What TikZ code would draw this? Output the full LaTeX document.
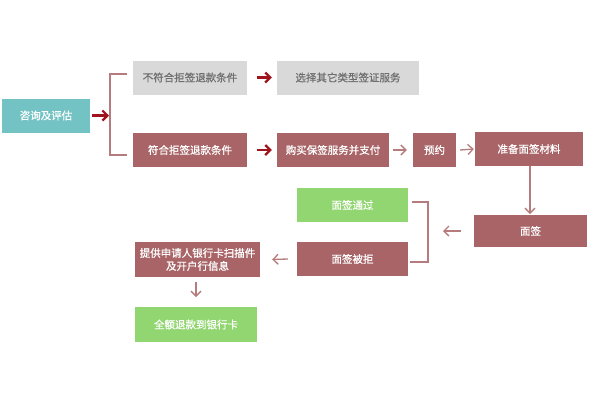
\documentclass[tikz,border=0pt]{standalone}
\usepackage{fontspec}
\newfontfamily\cjk[FakeBold=0.8]{Noto Sans CJK SC}
\usetikzlibrary{arrows.meta}
\definecolor{teal1}{RGB}{116,195,196}
\definecolor{rose}{RGB}{168,100,102}
\definecolor{green1}{RGB}{145,214,112}
\definecolor{gray1}{RGB}{217,217,217}
\definecolor{graytext}{RGB}{110,110,110}
\definecolor{darkred}{RGB}{160,20,30}
\tikzset{
  box/.style={draw=none, minimum height=34pt, inner sep=0pt, font=\cjk\fontsize{10.5}{13}\selectfont, text=white, align=center},
  tealbox/.style={box, fill=teal1},
  graybox/.style={box, fill=gray1, text=graytext},
  rosebox/.style={box, fill=rose},
  greenbox/.style={box, fill=green1},
  darr/.style={-{Straight Barb[length=5pt,width=10pt,line width=2.2pt]}, line width=2.2pt, draw=darkred},
  rarr/.style={-{Straight Barb[length=5pt,width=10pt,line width=1.3pt]}, line width=1.3pt, draw=rose!85},
  bline/.style={line width=1.1pt, draw=rose!85},
}
\begin{document}
\begin{tikzpicture}[x=1pt,y=-1pt]
\useasboundingbox (0,0) rectangle (600,400);
\fill[white] (0,0) rectangle (600,400);
\node[tealbox, minimum width=88pt] (zx) at (46,115.5) {咨询及评估};
\node[graybox, minimum width=114pt] (bf) at (190,77.5) {不符合拒签退款条件};
\node[graybox, minimum width=142pt] (xz) at (348,77.5) {选择其它类型签证服务};
\node[rosebox, minimum width=114pt] (fh) at (190,150) {符合拒签退款条件};
\node[rosebox, minimum width=112pt] (gm) at (333,150) {购买保签服务并支付};
\node[rosebox, minimum width=43pt] (yy) at (434.5,150) {预约};
\node[rosebox, minimum width=108pt] (zb) at (529,149) {准备面签材料};
\node[rosebox, minimum width=113pt, minimum height=32pt] (mq) at (530.5,231) {面签};
\node[greenbox, minimum width=111pt] (tg) at (352.5,205) {面签通过};
\node[rosebox, minimum width=111pt] (bj) at (352.5,259) {面签被拒};
\node[rosebox, minimum width=125pt, minimum height=35pt] (tq) at (197.5,259.5) {提供申请人银行卡扫描件\\及开户行信息};
\node[greenbox, minimum width=122pt, minimum height=35pt] (qe) at (196,324.5) {全额退款到银行卡};
% bracket 1
\coordinate (b1t) at (127,74);
\coordinate (b1b) at (127,155);
\coordinate (b1m) at (110,115.5);
\draw[bline] (b1t) -- (110,74) -- (110,155) -- (b1b);
\draw[darr] ([xshift=2pt]zx.east) -- ([xshift=-1pt]b1m);
\draw[darr] ([xshift=10pt]bf.east) -- ([xshift=-5pt]xz.west);
\draw[darr] ([xshift=10pt]fh.east) -- ([xshift=-5pt]gm.west);
\draw[rarr] ([xshift=4pt]gm.east) -- ([xshift=-6pt]yy.west);
\draw[rarr] ([xshift=4pt]yy.east) -- ([xshift=-1pt]zb.west);
\coordinate (vtop) at (530,166);
\coordinate (vbot) at (530,214);
\draw[rarr] (vtop) -- (vbot);
% bracket 2
\coordinate (b2t) at (412,202);
\coordinate (b2b) at (410,262);
\draw[bline] (b2t) -- (428,202) -- (428,262) -- (b2b);
\draw[rarr] ([xshift=-13pt]mq.west) -- (443,231);
\draw[rarr] ([xshift=-9pt]bj.west) -- ([xshift=12pt]tq.east);
\coordinate (v2) at (196,282);
\coordinate (v2b) at (196,297);
\draw[rarr] (v2) -- (v2b);
\end{tikzpicture}
\end{document}
